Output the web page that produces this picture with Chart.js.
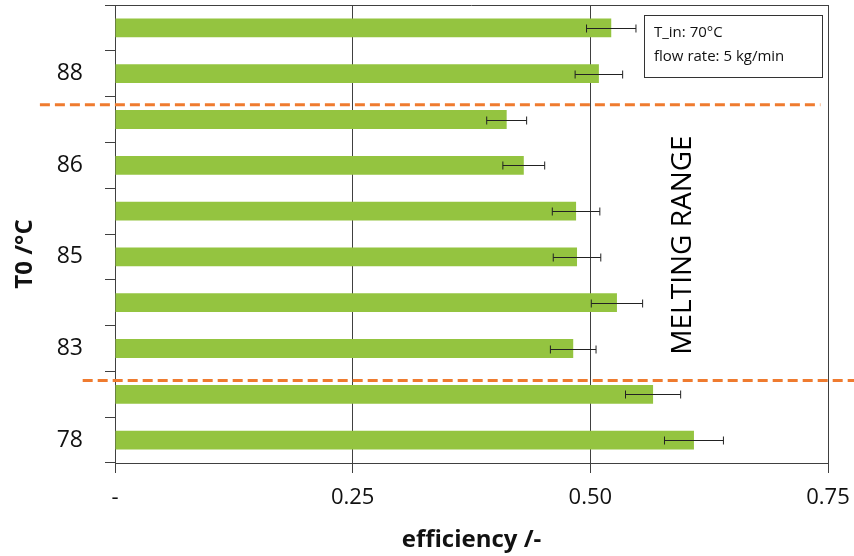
<!DOCTYPE html>
<html>
<head>
<meta charset="utf-8">
<script src="https://cdn.jsdelivr.net/npm/chart.js@4"></script>
<style>
  body { margin: 0; background: #fff; }
  canvas { display: block; }
</style>
</head>
<body>
<canvas id="effChart" width="854" height="556"></canvas>
<script>
// categories from top to bottom; only every other one is labelled in the original
const tickLabels = ["", "88", "", "86", "", "85", "", "83", "", "78"];
const efficiency = [0.522, 0.509, 0.412, 0.430, 0.485, 0.486, 0.528, 0.482, 0.566, 0.609];
const errors = [0.026, 0.025, 0.021, 0.022, 0.025, 0.025, 0.027, 0.024, 0.029, 0.031];
const xTicks = [0, 0.25, 0.5, 0.75];
const xTickText = ["-", "0.25", "0.50", "0.75"];

// orange dashed separators: category position and x extent (in efficiency units)
const separators = [
  { at: 1.68, from: -0.079, to: 0.742 },
  { at: 7.70, from: -0.034, to: 0.78 }
];
const infoLines = ["T_in: 70°C", "flow rate: 5 kg/min"];
const rangeText = "MELTING RANGE";
const rangePos = { x: 0.598, y: 4.74 };

const FONT = "'Open Sans', 'DejaVu Sans', sans-serif";

const extras = {
  id: "extras",
  beforeDatasetsDraw(chart) {
    const { ctx, chartArea: a } = chart;
    ctx.save();
    ctx.strokeStyle = "#404040";
    ctx.lineWidth = 1;
    ctx.beginPath();
    ctx.moveTo(a.left, a.top + 0.5);
    ctx.lineTo(a.right, a.top + 0.5);
    ctx.stroke();
    ctx.restore();
  },
  afterDatasetsDraw(chart) {
    const { ctx, chartArea: a } = chart;
    const x = chart.scales.x, y = chart.scales.y;
    ctx.save();

    // error bars
    ctx.strokeStyle = "#222";
    ctx.lineWidth = 1;
    efficiency.forEach((v, i) => {
      const yc = Math.round(y.getPixelForValue(i)) + 0.5;
      const x1 = x.getPixelForValue(v - errors[i]);
      const x2 = x.getPixelForValue(v + errors[i]);
      ctx.beginPath();
      ctx.moveTo(x1, yc); ctx.lineTo(x2, yc);
      ctx.moveTo(x1, yc - 4); ctx.lineTo(x1, yc + 4);
      ctx.moveTo(x2, yc - 4); ctx.lineTo(x2, yc + 4);
      ctx.stroke();
    });

    // dashed separators
    ctx.strokeStyle = "#ef7b2f";
    ctx.lineWidth = 3;
    ctx.setLineDash([10, 5]);
    separators.forEach(s => {
      const yy = y.getPixelForValue(s.at);
      ctx.beginPath();
      ctx.moveTo(x.getPixelForValue(s.from), yy);
      ctx.lineTo(x.getPixelForValue(s.to), yy);
      ctx.stroke();
    });
    ctx.setLineDash([]);

    // info box
    const bx = a.right - 184, by = a.top + 10;
    ctx.fillStyle = "#fff";
    ctx.fillRect(bx, by, 178, 62);
    ctx.strokeStyle = "#333";
    ctx.lineWidth = 1;
    ctx.strokeRect(bx + 0.5, by + 0.5, 178, 62);
    ctx.fillStyle = "#111";
    ctx.font = "15px " + FONT;
    ctx.textBaseline = "middle";
    ctx.textAlign = "left";
    infoLines.forEach((t, i) => ctx.fillText(t, bx + 10, by + 18 + i * 24));

    // melting range label
    ctx.save();
    ctx.translate(x.getPixelForValue(rangePos.x), y.getPixelForValue(rangePos.y));
    ctx.rotate(-Math.PI / 2);
    ctx.fillStyle = "#000";
    ctx.font = "28px " + FONT;
    ctx.textAlign = "center";
    ctx.fillText(rangeText, 0, 0);
    ctx.restore();

    // y axis title
    ctx.save();
    ctx.translate(25, (a.top + a.bottom) / 2 + 20);
    ctx.rotate(-Math.PI / 2);
    ctx.fillStyle = "#111";
    ctx.font = "bold 24px " + FONT;
    ctx.textAlign = "center";
    ctx.fillText("T0 /°C", 0, 0);
    ctx.restore();

    ctx.restore();
  }
};

new Chart(document.getElementById("effChart"), {
  type: "bar",
  data: {
    labels: tickLabels,
    datasets: [{
      data: efficiency,
      backgroundColor: "#94c440",
      borderWidth: 0,
      categoryPercentage: 1,
      barPercentage: 0.41
    }]
  },
  plugins: [extras],
  options: {
    indexAxis: "y",
    responsive: false,
    animation: false,
    layout: { padding: { top: 5, right: 26, left: 0, bottom: 0 } },
    plugins: { legend: { display: false }, tooltip: { enabled: false } },
    scales: {
      x: {
        min: 0,
        max: 0.75,
        afterFit: s => { s.height = 93; s.paddingLeft = 0; s.paddingRight = 0; },
        afterBuildTicks: s => { s.ticks = xTicks.map(v => ({ value: v })); },
        ticks: {
          callback: (v, i) => xTickText[i],
          color: "#111",
          font: { family: FONT, size: 22 },
          padding: 12,
          maxRotation: 0
        },
        grid: { color: "#404040", lineWidth: 1, tickLength: 10 },
        border: { color: "#404040" },
        title: {
          display: true,
          text: "efficiency /-",
          color: "#111",
          font: { family: FONT, size: 24, weight: "bold" },
          padding: { top: 0, bottom: 1 }
        }
      },
      y: {
        afterFit: s => { s.width = 115; s.paddingTop = 0; s.paddingBottom = 0; },
        ticks: {
          autoSkip: false,
          color: "#111",
          font: { family: FONT, size: 23 },
          padding: 22
        },
        grid: { drawOnChartArea: false, color: "#404040", tickLength: 10 },
        border: { color: "#404040" }
      }
    }
  }
});
</script>
</body>
</html>
